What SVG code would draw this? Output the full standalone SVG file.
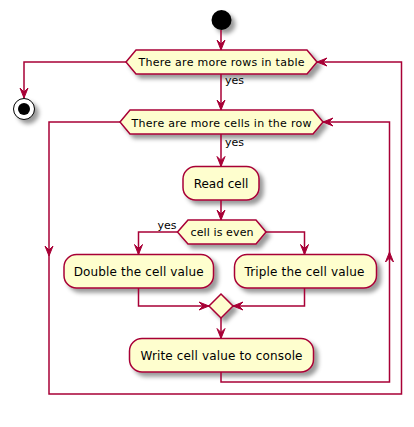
<svg xmlns="http://www.w3.org/2000/svg" width="414" height="427" viewBox="0 0 414 427">
<defs>
<filter id="sh" x="-1" y="-1" width="300%" height="300%">
<feGaussianBlur result="b1" stdDeviation="2"/>
<feColorMatrix in="b1" result="b2" type="matrix" values="0 0 0 0 0 0 0 0 0 0 0 0 0 0 0 0 0 0 .4 0"/>
<feOffset dx="4" dy="4" in="b2" result="b3"/>
<feBlend in="SourceGraphic" in2="b3" mode="normal"/>
</filter>
<style>
.n{fill:#FEFECE;stroke:#A80036;stroke-width:1.5;filter:url(#sh)}
.l{fill:none;stroke:#A80036;stroke-width:1.5}
.a{fill:#A80036;stroke:#A80036;stroke-width:1}
.t{font-family:"DejaVu Sans",Verdana,sans-serif;font-size:12px;fill:#000;text-anchor:middle}
.d{font-family:"DejaVu Sans",Verdana,sans-serif;font-size:11px;fill:#000;text-anchor:middle}
.y{font-family:"DejaVu Sans",Verdana,sans-serif;font-size:11px;fill:#000}
</style>
</defs>
<rect width="414" height="427" fill="#FFFFFF"/>
<g id="start"><circle cx="221.5" cy="20" r="10" fill="#000" filter="url(#sh)"/></g>
<g id="stop"><circle cx="24" cy="109" r="10.5" fill="#FFF" stroke="#000" stroke-width="1" filter="url(#sh)"/><circle cx="24" cy="109" r="6" fill="#000"/></g>
<g id="rows"><polygon class="n" points="126,62 136,50 307,50 317,62 307,74 136,74"/><text class="d" x="221.5" y="66" textLength="166" lengthAdjust="spacing">There are more rows in table</text></g>
<g id="cells"><polygon class="n" points="120,122 130,110 313,110 323,122 313,134 130,134"/><text class="d" x="221.5" y="126.5" textLength="180" lengthAdjust="spacing">There are more cells in the row</text></g>
<g id="read"><rect class="n" x="183" y="166.5" width="76" height="33.5" rx="12.5"/><text class="t" x="221" y="188">Read cell</text></g>
<g id="even"><polygon class="n" points="177.5,232 188,220 256,220 266,232 256,244 188,244"/><text class="d" x="222" y="236" textLength="63" lengthAdjust="spacing">cell is even</text></g>
<g id="double"><rect class="n" x="64" y="254.5" width="149.5" height="33.5" rx="12.5"/><text class="t" x="138.7" y="276" textLength="130" lengthAdjust="spacing">Double the cell value</text></g>
<g id="triple"><rect class="n" x="234.5" y="254.5" width="142" height="33.5" rx="12.5"/><text class="t" x="304.5" y="276" textLength="120" lengthAdjust="spacing">Triple the cell value</text></g>
<g id="merge"><polygon class="n" points="221,294 233,306 221,318 209,306"/></g>
<g id="write"><rect class="n" x="129.5" y="338.5" width="184" height="33.5" rx="12.5"/><text class="t" x="221.5" y="360" textLength="162" lengthAdjust="spacing">Write cell value to console</text></g>
<g id="connectors">
<path class="l" d="M221,30 L221,50"/><polygon class="a" points="217,40 221,50 225,40 221,44"/>
<path class="l" d="M221,74 L221,110"/><polygon class="a" points="217,100 221,110 225,100 221,104"/>
<text class="y" x="225" y="84">yes</text>
<path class="l" d="M126,62 L24,62 L24,98"/><polygon class="a" points="20,88 24,98 28,88 24,92"/>
<path class="l" d="M221,134 L221,166.5"/><polygon class="a" points="217,156.5 221,166.5 225,156.5 221,160.5"/>
<text class="y" x="225" y="145.5">yes</text>
<path class="l" d="M221,200 L221,220"/><polygon class="a" points="217,210 221,220 225,210 221,214"/>
<path class="l" d="M177.5,232 L138.5,232 L138.5,254.5"/><polygon class="a" points="134.5,244.5 138.5,254.5 142.5,244.5 138.5,248.5"/>
<text class="y" x="176.5" y="228.5" text-anchor="end">yes</text>
<path class="l" d="M266,232 L304.5,232 L304.5,254.5"/><polygon class="a" points="300.5,244.5 304.5,254.5 308.5,244.5 304.5,248.5"/>
<path class="l" d="M138.5,288 L138.5,306 L209,306"/><polygon class="a" points="199,302 209,306 199,310 203,306"/>
<path class="l" d="M304.5,288 L304.5,306 L233,306"/><polygon class="a" points="243,302 233,306 243,310 239,306"/>
<path class="l" d="M221,318 L221,338.5"/><polygon class="a" points="217,328.5 221,338.5 225,328.5 221,332.5"/>
<path class="l" d="M221,372 L221,382 L389.5,382 L389.5,122 L323,122"/><polygon class="a" points="385.5,262 389.5,252 393.5,262 389.5,258"/><polygon class="a" points="333,118 323,122 333,126 329,122"/>
<path class="l" d="M120,122 L49,122 L49,394 L401.5,394 L401.5,62 L317,62"/><polygon class="a" points="45,246 49,256 53,246 49,250"/><polygon class="a" points="327,58 317,62 327,66 323,62"/>
</g>
</svg>
